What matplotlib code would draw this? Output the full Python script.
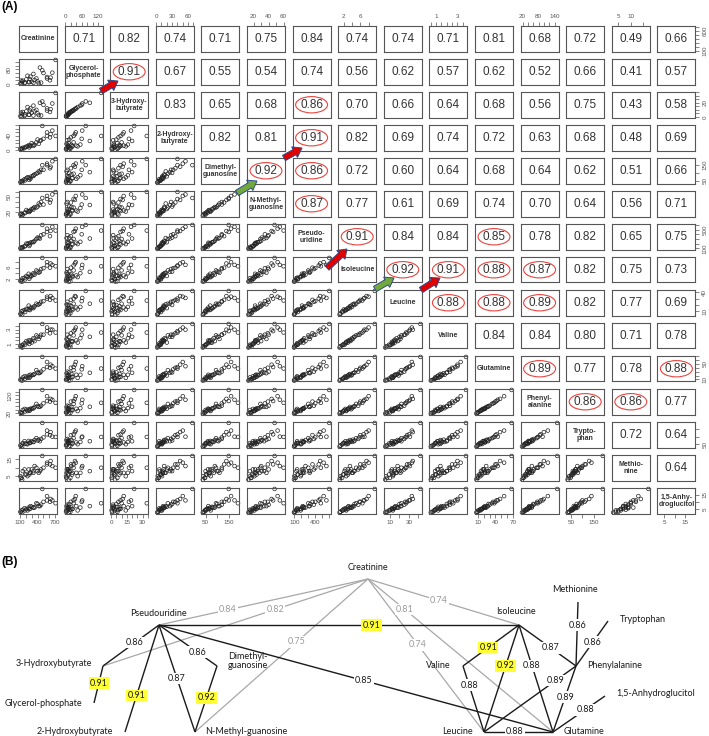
import matplotlib
matplotlib.use("Agg")
import numpy as np
import matplotlib.pyplot as plt
from matplotlib.patches import Ellipse, FancyArrow

plt.rcParams["font.family"] = ["Liberation Sans", "DejaVu Sans"]

# %% Panel A: pairs plot data (30 samples, read approx. from scatter panels)
ETIQUETAS = ["Creatinine", "Glycerol-\nphosphate", "3-Hydroxy-\nbutyrate",
             "2-Hydroxy-\nbutyrate", "Dimethyl-\nguanosine", "N-Methyl-\nguanosine",
             "Pseudo-\nuridine", "Isoleucine", "Leucine", "Valine", "Glutamine",
             "Phenyl-\nalanine", "Trypto-\nphan", "Methio-\nnine", "1,5-Anhy-\ndroglucitol"]

creatinine = [110, 260, 130, 330, 120, 180, 420, 210, 140, 250, 380, 190, 280, 150, 460,
              350, 230, 400, 560, 330, 300, 620, 500, 270, 560, 440, 610, 650, 480, 705]
glycerol_p = [2, 10, 3, 6, 18, 5, 4, 25, 12, 9, 30, 8, 40, 18, 7,
              22, 45, 14, 30, 55, 12, 35, 60, 26, 38, 90, 20, 62, 75, 132]
hidroxibut3 = [1, 3, 0.5, 2, 6, 1.5, 2.5, 8, 4, 3, 10, 3.5, 12, 7, 2,
               8, 14, 5, 9, 16, 6, 11, 17, 9, 12, 20, 7, 19, 22, 34]
hidroxibut2 = [3, 8, 5, 12, 4, 6, 18, 10, 2, 14, 22, 9, 13, 7, 28,
               15, 11, 30, 40, 16, 20, 45, 32, 12, 50, 26, 36, 55, 68, 40]
dimetilguan = [40, 55, 48, 80, 45, 60, 110, 65, 38, 70, 95, 52, 62, 50, 120,
               90, 72, 100, 150, 85, 78, 140, 120, 68, 160, 105, 130, 175, 150, 190]
metilguan = [15, 20, 16, 25, 17, 19, 37, 24, 13, 22, 29, 18, 23, 15, 40,
             30, 21, 31, 46, 28, 26, 44, 35, 22, 52, 34, 39, 55, 48, 60]
pseudouridina = [100, 150, 120, 230, 110, 140, 320, 200, 95, 210, 300, 150, 220, 130, 380,
                 260, 190, 330, 450, 240, 230, 470, 400, 180, 520, 310, 360, 560, 600, 480]
isoleucina = [1.2, 2.0, 1.6, 3.5, 1.1, 2.4, 4.2, 3.0, 1.0, 3.8, 5.0, 1.8, 3.2, 2.2, 5.5,
              3.5, 2.6, 4.6, 6.8, 4.0, 3.0, 7.5, 5.8, 2.6, 8.0, 4.5, 6.0, 7.0, 9.5, 6.5]
leucina = [6, 13, 10, 15, 7, 12, 21, 14, 5, 19, 22, 9, 16, 11, 25,
           18, 13, 20, 30, 17, 15, 34, 26, 12, 33, 22, 28, 31, 42, 27]
valina = [0.7, 1.0, 0.8, 1.6, 0.6, 1.1, 1.7, 1.4, 0.5, 1.5, 2.2, 0.9, 1.5, 0.9, 2.3,
          1.4, 1.2, 2.0, 2.8, 1.8, 1.2, 3.0, 2.3, 1.3, 3.3, 2.0, 2.5, 3.0, 3.8, 2.6]
glutamina = [9, 14, 10, 22, 8, 18, 26, 17, 7, 20, 34, 12, 22, 15, 30,
             24, 14, 28, 42, 22, 20, 48, 36, 16, 55, 27, 40, 44, 68, 38]
fenilalanina = [25, 34, 24, 48, 22, 44, 55, 40, 18, 42, 72, 30, 45, 38, 62,
                55, 32, 60, 88, 48, 45, 100, 75, 36, 115, 56, 85, 95, 150, 78]
triptofano = [42, 60, 48, 65, 40, 70, 80, 52, 35, 72, 90, 55, 62, 58, 85,
              78, 50, 75, 115, 65, 70, 130, 95, 58, 140, 70, 110, 100, 190, 98]
metionina = [5, 6, 4, 8, 4, 9, 7, 6, 3, 9, 10, 6, 7, 8, 9,
             11, 5, 8, 12, 7, 9, 14, 10, 7, 13, 8, 12, 11, 17, 10]
anhidroglucitol = [3, 5, 4, 6, 3, 5.5, 7, 5, 2.5, 6, 9, 4, 7, 4.5, 8,
                   6, 4, 8.5, 11, 6, 6.5, 12, 10, 5, 14, 7, 10, 11, 19, 9]

DATOS = [creatinine, glycerol_p, hidroxibut3, hidroxibut2, dimetilguan, metilguan,
         pseudouridina, isoleucina, leucina, valina, glutamina, fenilalanina,
         triptofano, metionina, anhidroglucitol]

# upper triangle, row r holds columns r+1 .. 14
CORR = [
    [0.71, 0.82, 0.74, 0.71, 0.75, 0.84, 0.74, 0.74, 0.71, 0.81, 0.68, 0.72, 0.49, 0.66],
    [0.91, 0.67, 0.55, 0.54, 0.74, 0.56, 0.62, 0.57, 0.62, 0.52, 0.66, 0.41, 0.57],
    [0.83, 0.65, 0.68, 0.86, 0.70, 0.66, 0.64, 0.68, 0.56, 0.75, 0.43, 0.58],
    [0.82, 0.81, 0.91, 0.82, 0.69, 0.74, 0.72, 0.63, 0.68, 0.48, 0.69],
    [0.92, 0.86, 0.72, 0.60, 0.64, 0.68, 0.64, 0.62, 0.51, 0.66],
    [0.87, 0.77, 0.61, 0.69, 0.74, 0.70, 0.64, 0.56, 0.71],
    [0.91, 0.84, 0.84, 0.85, 0.78, 0.82, 0.65, 0.75],
    [0.92, 0.91, 0.88, 0.87, 0.82, 0.75, 0.73],
    [0.88, 0.88, 0.89, 0.82, 0.77, 0.69],
    [0.84, 0.84, 0.80, 0.71, 0.78],
    [0.89, 0.77, 0.78, 0.88],
    [0.86, 0.86, 0.77],
    [0.72, 0.64],
    [0.64],
]
CIRCULOS = [(1, 2), (2, 6), (3, 6), (4, 5), (4, 6), (5, 6), (6, 7), (6, 10),
            (7, 8), (7, 9), (7, 10), (7, 11), (8, 9), (8, 10), (8, 11),
            (10, 11), (10, 14), (11, 12), (11, 13)]

# ticks per variable: (positions, labels on x axes, labels on y axes)
TICKS = [
    (range(100, 800, 100), [100, 400, 700], [100, 600]),
    (range(0, 160, 20), [0, 60, 120], [0, 80]),
    (range(0, 40, 5), [0, 15, 30], [0, 20]),
    (range(0, 80, 10), [0, 30, 60], [0, 40]),
    ([50, 100, 150, 200], [50, 150], [50, 150]),
    (range(10, 70, 10), [20, 40, 60], [20, 50]),
    (range(100, 700, 100), [100, 400], [100, 500]),
    ([2, 4, 6, 8, 10], [2, 6, 10], [2, 6]),
    ([10, 20, 30, 40], [10, 30], [10, 40]),
    ([0.5, 1, 1.5, 2, 2.5, 3, 3.5, 4], [1, 3], [1, 3]),
    (range(10, 80, 10), [10, 40, 70], [10, 50]),
    (range(20, 180, 20), [20, 80, 140], [20, 120]),
    ([50, 100, 150, 200], [50, 150], [50]),
    ([5, 10, 15], [5, 10], [5, 15]),
    ([5, 10, 15, 20], [5, 15], [5, 15]),
]

# arrows in panel A: (tail, tip, colour)
FLECHAS = [((101, 91), (118, 81), "rojo"), ((284, 158), (302, 148), "rojo"),
           ((237, 193), (257, 181), "verde"), ((327, 268), (347, 249), "rojo"),
           ((375, 289), (394, 278), "verde"), ((421, 290), (440, 278), "rojo")]

# %% Panel B: network
NODOS = {
    "Creatinine": (368, 579), "Pseudouridine": (159, 625), "3-Hydroxybutyrate": (103, 666),
    "Glycerol-phosphate": (94, 703), "2-Hydroxybutyrate": (125, 732),
    "N-Methyl-guanosine": (195, 732), "Dimethyl-guanosine": (217, 666),
    "Isoleucine": (519, 625), "Valine": (463, 666), "Leucine": (484, 732),
    "Glutamine": (553, 732), "Phenylalanine": (576, 666), "Methionine": (578, 602),
    "Tryptophan": (608, 621), "1,5-Anhydroglucitol": (605, 696),
}
ETIQ_NODOS = {
    "Creatinine": (368, 567, "center"), "Pseudouridine": (158, 613, "center"),
    "3-Hydroxybutyrate": (92, 664, "right"), "Glycerol-phosphate": (82, 703, "right"),
    "2-Hydroxybutyrate": (113, 732, "right"), "N-Methyl-guanosine": (205, 732, "left"),
    "Dimethyl-guanosine": (228, 661, "left"), "Isoleucine": (516, 612, "center"),
    "Valine": (451, 666, "right"), "Leucine": (473, 732, "right"),
    "Glutamine": (564, 732, "left"), "Phenylalanine": (587, 666, "left"),
    "Methionine": (575, 590, "center"), "Tryptophan": (620, 619, "left"),
    "1,5-Anhydroglucitol": (616, 694, "left"),
}
ARISTAS = [
    ("Pseudouridine", "Creatinine", 0.84, "gris"),
    ("3-Hydroxybutyrate", "Creatinine", 0.82, "gris"),
    ("N-Methyl-guanosine", "Creatinine", 0.75, "gris"),
    ("Creatinine", "Isoleucine", 0.74, "gris"),
    ("Creatinine", "Glutamine", 0.81, "gris"),
    ("Creatinine", "Leucine", 0.74, "gris"),
    ("Pseudouridine", "Isoleucine", 0.91, "top"),
    ("Pseudouridine", "3-Hydroxybutyrate", 0.86, "negro"),
    ("3-Hydroxybutyrate", "Glycerol-phosphate", 0.91, "top"),
    ("Pseudouridine", "2-Hydroxybutyrate", 0.91, "top"),
    ("Pseudouridine", "N-Methyl-guanosine", 0.87, "negro"),
    ("Pseudouridine", "Dimethyl-guanosine", 0.86, "negro"),
    ("Dimethyl-guanosine", "N-Methyl-guanosine", 0.92, "top"),
    ("Pseudouridine", "Glutamine", 0.85, "negro"),
    ("Isoleucine", "Valine", 0.91, "top"),
    ("Isoleucine", "Leucine", 0.92, "top"),
    ("Isoleucine", "Glutamine", 0.88, "negro"),
    ("Valine", "Leucine", 0.88, "negro"),
    ("Isoleucine", "Phenylalanine", 0.87, "negro"),
    ("Leucine", "Phenylalanine", 0.89, "negro"),
    ("Glutamine", "Phenylalanine", 0.89, "negro"),
    ("Phenylalanine", "Methionine", 0.86, "negro"),
    ("Phenylalanine", "Tryptophan", 0.86, "negro"),
    ("Glutamine", "1,5-Anhydroglucitol", 0.88, "negro"),
    ("Leucine", "Glutamine", 0.88, "negro"),
]
# label position along each edge (fraction from first node)
T_ETIQ = [0.33, 0.65, 0.59, 0.47, 0.20, 0.43, 0.59, 0.43, 0.46, 0.66, 0.50, 0.66, 0.48,
          0.52, 0.55, 0.38, 0.38, 0.29, 0.56, 0.78, 0.53, 0.64, 0.53, 0.62, 0.45]

# %% Figure
W, H = 709, 736
X0, Y0, DX, DY, CW, CH = 19, 26, 45.6, 33.0, 38, 25.5
BORDE = "#555555"
TXT_EJE = "#555555"

fig = plt.figure(figsize=(W / 100, H / 100), dpi=100)


def ejes_px(x, y, w, h):
    return fig.add_axes([x / W, 1 - (y + h) / H, w / W, h / H])


def rango(v):
    lo, hi = min(v), max(v)
    m = 0.04 * (hi - lo)
    return lo - m, hi + m


def poner_eje(ax, lado, var, lims):
    pos, lab_h, lab_v = TICKS[var]
    pos = [t for t in pos if lims[0] <= t <= lims[1]]
    kw = dict(length=3, width=0.5, color=TXT_EJE, labelcolor=TXT_EJE, labelsize=4.5, pad=2)
    if lado in ("top", "bottom"):
        ax.set_xticks(pos, [f"{t:g}" if t in lab_h else "" for t in pos])
        ax.tick_params(axis="x", top=lado == "top", labeltop=lado == "top",
                       bottom=lado == "bottom", labelbottom=lado == "bottom", **kw)
    else:
        ax.set_yticks(pos, [f"{t:g}" if t in lab_v else "" for t in pos])
        ax.tick_params(axis="y", left=lado == "left", labelleft=lado == "left",
                       right=lado == "right", labelright=lado == "right",
                       labelrotation=90, **kw)
        for lab in ax.get_yticklabels():
            lab.set_va("center")


n = len(DATOS)
for r in range(n):
    for c in range(n):
        ax = ejes_px(X0 + c * DX, Y0 + r * DY, CW, CH)
        xl, yl = rango(DATOS[c]), rango(DATOS[r])
        ax.set_xlim(xl)
        ax.set_ylim(yl)
        ax.set_xticks([])
        ax.set_yticks([])
        for s in ax.spines.values():
            s.set_color(BORDE)
            s.set_linewidth(0.8)

        if r > c:
            ax.scatter(DATOS[c], DATOS[r], s=7, facecolors="none",
                       edgecolors="#222222", linewidths=0.5, clip_on=False)
        elif r == c:
            ax.text(0.5, 0.5, ETIQUETAS[r], transform=ax.transAxes, ha="center",
                    va="center", fontsize=5, fontweight="bold", color="#333333",
                    linespacing=1.05)
        else:
            ax.text(0.5, 0.48, f"{CORR[r][c - r - 1]:.2f}", transform=ax.transAxes,
                    ha="center", va="center", fontsize=8.5, color="#333333")
            if (r, c) in CIRCULOS:
                ax.add_patch(Ellipse((0.5, 0.5), 0.84, 0.64, transform=ax.transAxes,
                                     fill=False, ec="#e8433f", lw=0.8))

        if r == 0 and c % 2 == 1:
            poner_eje(ax, "top", c, xl)
        if r == n - 1 and c % 2 == 0:
            poner_eje(ax, "bottom", c, xl)
        if c == 0 and r % 2 == 1:
            poner_eje(ax, "left", r, yl)
        if c == n - 1 and r % 2 == 0:
            poner_eje(ax, "right", r, yl)

# --- overlay in pixel coordinates: arrows + panel B ---
ov = fig.add_axes([0, 0, 1, 1])
ov.set_xlim(0, W)
ov.set_ylim(H, 0)
ov.axis("off")
ov.patch.set_alpha(0)

ov.text(1, 7, "(A)", fontsize=8.5, fontweight="bold", ha="left", va="center")
ov.text(1, 562, "(B)", fontsize=8.5, fontweight="bold", ha="left", va="center")

COL_FLECHA = {"rojo": "#e00000", "verde": "#72a83c"}
for (x1, y1), (x2, y2), col in FLECHAS:
    ov.add_patch(FancyArrow(x1, y1, x2 - x1, y2 - y1, width=6, head_width=12,
                            head_length=8.5, length_includes_head=True,
                            fc=COL_FLECHA[col], ec="#2e4c8c", lw=0.7, zorder=5))

for (a, b, val, tipo), t in zip(ARISTAS, T_ETIQ):
    (xa, ya), (xb, yb) = NODOS[a], NODOS[b]
    gris = tipo == "gris"
    ov.plot([xa, xb], [ya, yb], color="#a8a8a8" if gris else "#1a1a1a",
            lw=0.9 if gris else 1.0, zorder=1 if gris else 2, solid_capstyle="butt")
    xt, yt = xa + t * (xb - xa), ya + t * (yb - ya)
    fondo = "#ffff33" if tipo == "top" else "white"
    ov.text(xt, yt, f"{val:.2f}", ha="center", va="center", fontsize=6.5,
            family=["Lato", "DejaVu Sans"], color="#9a9a9a" if gris else "#1a1a1a",
            bbox=dict(boxstyle="square,pad=0.15", fc=fondo, ec="none"), zorder=3)

for nombre, (x, y, ha) in ETIQ_NODOS.items():
    texto = "Dimethyl-\nguanosine" if nombre == "Dimethyl-guanosine" else nombre
    ov.text(x, y, texto, ha=ha, va="center", fontsize=6.5, linespacing=0.95,
            family=["Lato", "DejaVu Sans"], color="#1a1a1a", zorder=4)

plt.savefig("out.png", dpi=100, facecolor="white")
